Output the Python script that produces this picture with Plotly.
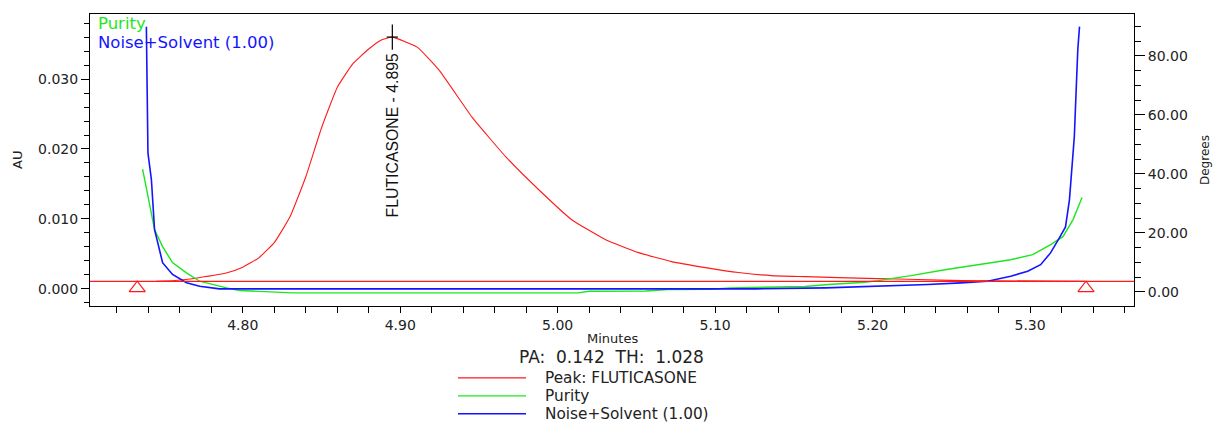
import plotly.graph_objects as go

# ---------------- data ----------------
peak_time = [4.745, 4.757, 4.772, 4.790, 4.800, 4.810, 4.820, 4.830, 4.840, 4.850, 4.860, 4.870,
             4.880, 4.888, 4.895, 4.9108, 4.9247, 4.9456, 4.9671, 4.988, 5.0089, 5.0305, 5.0514,
             5.0723, 5.0938, 5.1148, 5.1357, 5.1572, 5.1781, 5.2034, 5.2288, 5.256, 5.335]
peak_au = [0.00108, 0.0012, 0.0016, 0.0023, 0.0031, 0.0044, 0.0066, 0.0103, 0.0160, 0.0230, 0.0288,
           0.0322, 0.0343, 0.0356, 0.0360, 0.03456, 0.03128, 0.02456, 0.01887, 0.01417, 0.00989,
           0.00703, 0.00518, 0.00389, 0.00304, 0.00233, 0.00190, 0.00175, 0.00161, 0.00147,
           0.00133, 0.00118, 0.00108]

purity_time = [4.7364, 4.741, 4.744, 4.749, 4.7554, 4.764, 4.7726, 4.7897, 4.798, 4.8315, 5.013,
               5.020, 5.056, 5.070, 5.097, 5.110, 5.157, 5.172, 5.195, 5.2034, 5.2244, 5.2459,
               5.2668, 5.2877, 5.3017, 5.3131, 5.321, 5.3273, 5.3330]
purity_deg = [41.6, 29.0, 21.1, 15.4, 9.9, 6.5, 3.6, 1.35, 0.44, -0.34, -0.34,
              0.2, 0.3, 0.78, 0.9, 1.35, 1.8, 2.5, 3.25, 3.8, 5.5, 7.5,
              9.2, 10.9, 12.6, 16.0, 18.8, 24.5, 32.0]

noise_time = [4.7388, 4.7392, 4.7398, 4.742, 4.744, 4.7491, 4.7554, 4.7643, 4.7726, 4.7852, 5.126,
              5.170, 5.2034, 5.235, 5.256, 5.273, 5.2877, 5.2985, 5.3067, 5.313, 5.3187, 5.3225,
              5.3250, 5.3264, 5.3281, 5.3292, 5.3303, 5.3314]
noise_deg = [89.9, 70.5, 47.1, 38.0, 21.1, 9.9, 5.9, 3.1, 1.9, 1.0, 1.0,
             1.35, 1.9, 2.5, 3.05, 3.6, 5.3, 7.0, 9.2, 13.2, 18.4, 22.0,
             31.2, 42.4, 52.6, 67.4, 82.0, 89.9]

baseline_au = 0.00108
marker_time = [4.733, 5.3355]
marker_au = [0.0001, 0.0001]
peak_rt = 4.895
peak_apex = 0.0360
peak_label = "FLUTICASONE - 4.895"
pa_th_text = "PA:  0.142  TH:  1.028"
legend_names = ["Peak: FLUTICASONE", "Purity", "Noise+Solvent (1.00)"]

# ---------------- style ----------------
RED, GREEN, BLUE = "#ff1a1a", "#1ee61e", "#1414ff"
W, H = 1213, 423
L, R, T, B = 90, 1134, 14, 306.5
FONT = "DejaVu Sans"


def xp(px):
    return (px - L) / (R - L)


def yp(py):
    return (B - py) / (B - T)


fig = go.Figure()
fig.add_trace(go.Scatter(x=peak_time, y=peak_au, mode="lines", name=legend_names[0],
                         line=dict(color=RED, width=1.1, shape="spline", smoothing=0.4),
                         yaxis="y"))
fig.add_trace(go.Scatter(x=purity_time, y=purity_deg, mode="lines", name=legend_names[1],
                         line=dict(color=GREEN, width=1.4), yaxis="y2"))
fig.add_trace(go.Scatter(x=noise_time, y=noise_deg, mode="lines", name=legend_names[2],
                         line=dict(color=BLUE, width=1.6), yaxis="y2"))
fig.add_trace(go.Scatter(x=marker_time, y=marker_au, mode="markers", showlegend=False,
                         marker=dict(symbol="triangle-up-open", size=14, color=RED,
                                     line=dict(width=1.2, color=RED)), yaxis="y"))
fig.add_trace(go.Scatter(x=[peak_rt], y=[peak_apex], mode="markers", showlegend=False,
                         marker=dict(symbol="line-ns", size=18, line=dict(width=1.2, color="black")),
                         yaxis="y"))
fig.add_trace(go.Scatter(x=[peak_rt], y=[peak_apex], mode="markers", showlegend=False,
                         marker=dict(symbol="line-ew", size=8, line=dict(width=1.2, color="black")),
                         yaxis="y"))
fig.add_hline(y=baseline_au, line=dict(color=RED, width=1.2), yref="y")

tickfont = dict(family=FONT, size=14, color="#222")
fig.update_layout(
    width=W, height=H, showlegend=False,
    margin=dict(l=L, r=W - R, t=T, b=H - B, autoexpand=False),
    plot_bgcolor="white", paper_bgcolor="white",
    xaxis=dict(range=[4.703, 5.366], tick0=4.8, dtick=0.1, tickformat=".2f",
               ticks="outside", ticklen=6, tickcolor="black", showline=True, linecolor="black",
               linewidth=1, mirror=True, showgrid=False, zeroline=False, tickfont=tickfont,
               minor=dict(tick0=4.8, dtick=0.02, ticks="outside", ticklen=6, tickcolor="black",
                          showgrid=False)),
    yaxis=dict(range=[-0.00245, 0.0393], tick0=0, dtick=0.01, tickformat=".3f",
               ticks="outside", ticklen=8, tickcolor="black", showline=True, linecolor="black",
               linewidth=1, showgrid=False, zeroline=False, tickfont=tickfont,
               minor=dict(tick0=0, dtick=0.002, ticks="outside", ticklen=5, tickcolor="black",
                          showgrid=False)),
    yaxis2=dict(range=[-4.8, 94.2], tick0=0, dtick=20, tickformat=".2f", overlaying="y",
                side="right", ticks="outside", ticklen=10, tickcolor="black", showline=True,
                linecolor="black", linewidth=1, showgrid=False, zeroline=False, tickfont=tickfont,
                minor=dict(tick0=0, dtick=5, ticks="outside", ticklen=6, tickcolor="black",
                           showgrid=False)),
)

ann = []
ann.append(dict(x=peak_rt, y=peak_apex, xref="x", yref="y", text=peak_label, textangle=-90,
                showarrow=False, xanchor="center", yanchor="top", yshift=-14,
                font=dict(family="Liberation Sans, Arial", size=15.8, color="#111")))
ann.append(dict(x=xp(97), y=yp(24), xref="paper", yref="paper", text="Purity", showarrow=False,
                xanchor="left", yanchor="middle", borderpad=0,
                font=dict(family=FONT, size=16.5, color=GREEN)))
ann.append(dict(x=xp(97), y=yp(43), xref="paper", yref="paper", text="Noise+Solvent (1.00)",
                showarrow=False, xanchor="left", yanchor="middle", borderpad=0,
                font=dict(family=FONT, size=16.5, color=BLUE)))
ann.append(dict(x=xp(17), y=0.5, xref="paper", yref="paper", text="AU", textangle=-90,
                showarrow=False, xanchor="center", yanchor="middle",
                font=dict(family=FONT, size=13, color="#222")))
ann.append(dict(x=xp(1205), y=0.5, xref="paper", yref="paper", text="Degrees", textangle=-90,
                showarrow=False, xanchor="center", yanchor="middle",
                font=dict(family=FONT, size=12, color="#222")))
ann.append(dict(x=0.5, y=yp(339), xref="paper", yref="paper", text="Minutes", showarrow=False,
                xanchor="center", yanchor="middle", font=dict(family=FONT, size=13, color="#222")))
ann.append(dict(x=xp(611), y=yp(358), xref="paper", yref="paper", text=pa_th_text,
                showarrow=False, xanchor="center", yanchor="middle",
                font=dict(family=FONT, size=17, color="#222")))
leg_y = [378.5, 396.5, 414.5]
for name, col, yy in zip(legend_names, [RED, GREEN, BLUE], leg_y):
    ann.append(dict(x=xp(544), y=yp(yy), xref="paper", yref="paper", text=name, showarrow=False,
                    xanchor="left", yanchor="middle", borderpad=0,
                    font=dict(family=FONT, size=15.3, color="#222")))
    fig.add_shape(type="line", xref="paper", yref="paper", x0=xp(458), x1=xp(526),
                  y0=yp(yy), y1=yp(yy), line=dict(color=col, width=1.4))
fig.update_layout(annotations=ann)

fig.write_html("out.html", config={"displayModeBar": False},
               post_script="document.body.style.margin='0';document.body.style.overflow='hidden';")
